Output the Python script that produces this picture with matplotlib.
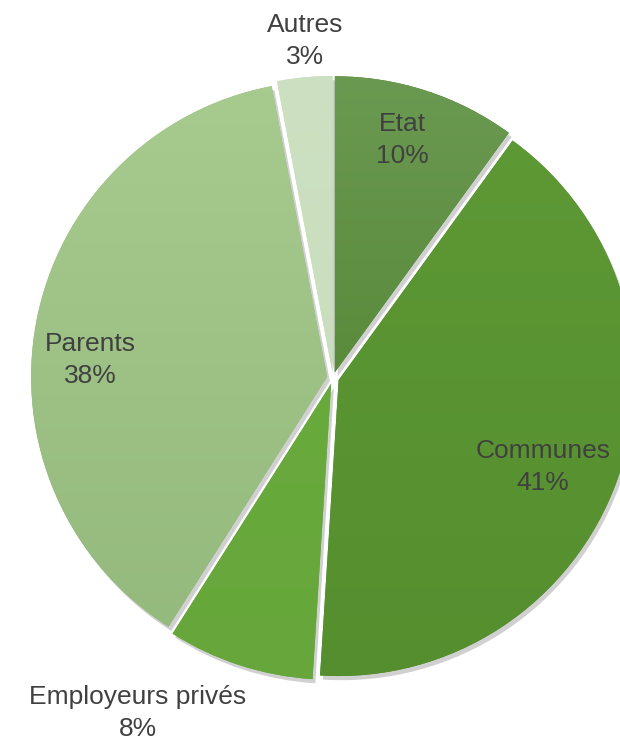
import matplotlib
matplotlib.use("Agg")
import matplotlib.pyplot as plt
import matplotlib.patheffects as pe
import numpy as np
from matplotlib.colors import LinearSegmentedColormap

plt.rcParams['font.family'] = ['Liberation Sans Narrow', 'Liberation Sans', 'DejaVu Sans']

labels = ["Etat", "Communes", "Employeurs privés", "Parents", "Autres"]
values = [10, 41, 8, 38, 3]
# top / bottom colour of each slice's vertical gradient
top_colors = ["#6b9a52", "#5e9a36", "#6cae40", "#a8cb8f", "#cde1c2"]
bot_colors = ["#487a24", "#558e2e", "#66a63a", "#93b87b", "#c6dcb9"]
# label placement (pixels, y from top)
label_pos = [(402, 140), (543, 467), (138, 713), (90, 360), (305, 41)]

W, H = 620, 744
fig = plt.figure(figsize=(W / 100, H / 100), dpi=100)
ax = fig.add_axes([0, 0, 1, 1])

cx, cy, r = 333, H - 378, 296
wedges, _ = ax.pie(values, startangle=90, counterclock=False, radius=r,
                   center=(cx, cy), explode=[6] * 5, frame=True,
                   colors=bot_colors, wedgeprops=dict(linewidth=0, zorder=1))
ax.set_xlim(0, W)
ax.set_ylim(0, H)
ax.set_aspect("equal")
ax.axis("off")

grad = np.linspace(0, 1, 256).reshape(-1, 1)
for w, c1, c2 in zip(wedges, top_colors, bot_colors):
    w.set_path_effects([pe.SimplePatchShadow(offset=(2, -3), alpha=0.3, shadow_rgbFace="#666666"), pe.Normal()])
    cmap = LinearSegmentedColormap.from_list("g", [c2, c1])
    im = ax.imshow(grad, cmap=cmap, origin="lower",
                   extent=(cx - r - 20, cx + r + 20, cy - r - 20, cy + r + 20),
                   aspect="auto", zorder=2)
    im.set_clip_path(w)

ax.set_xlim(0, W)
ax.set_ylim(0, H)

for lab, v, (x, y) in zip(labels, values, label_pos):
    ax.text(x, H - y, f"{lab}\n{v}%", ha="center", va="center", fontsize=19,
            color="#404040", linespacing=1.45, zorder=10)

fig.savefig("out.png", dpi=100)
